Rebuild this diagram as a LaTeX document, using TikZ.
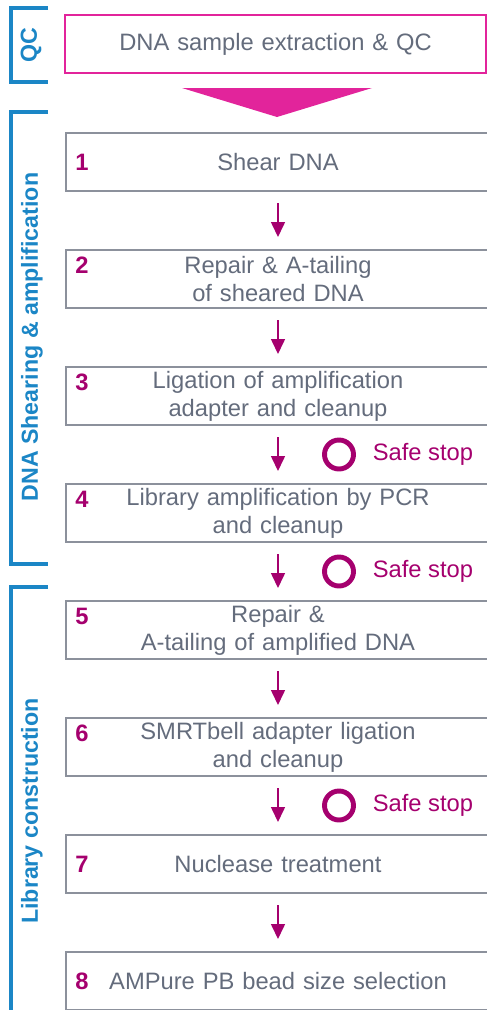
\documentclass[tikz,border=0pt]{standalone}
\usepackage{fontspec}
\setmainfont{Liberation Sans}
\usepackage{tikz}
\usetikzlibrary{positioning,arrows.meta,calc}

\definecolor{qcpink}{HTML}{E2249B}
\definecolor{stepnum}{HTML}{A5006E}
\definecolor{steptext}{HTML}{646C7C}
\definecolor{boxline}{HTML}{8C919C}
\definecolor{phaseblue}{HTML}{1B86C6}

\begin{document}
\begin{tikzpicture}[
  box/.style={rectangle,draw=boxline,line width=0.8pt,minimum height=1.16cm,minimum width=8.48cm,
    inner ysep=0pt,outer sep=0pt,text width=8cm,align=center,text=steptext,
    font=\fontsize{13.5}{15.9}\selectfont},
  qcbox/.style={box,draw=qcpink,line width=1.7pt,minimum width=8.42cm},
  num/.style={text=stepnum,font=\fontsize{13.5}{15.9}\selectfont\bfseries},
  link/.style={draw=stepnum,line width=0.9pt,-{Triangle[width=0.28cm,length=0.3cm]},
    shorten <=0.24cm,shorten >=0.26cm},
  ring/.style={circle,draw=stepnum,line width=2.8pt,minimum size=0.58cm,inner sep=0pt},
  stoptext/.style={text=stepnum,inner sep=0pt,font=\fontsize{13.5}{15.9}\selectfont},
  bracket/.style={draw=phaseblue,line width=2.3pt},
  phase/.style={rotate=90,text=phaseblue,font=\fontsize{13.2}{15}\selectfont\bfseries},
  node distance=1.18cm
]
  \useasboundingbox (0,0) rectangle (9.74,-20.2);

  % QC
  \node [qcbox] (q0) at (5.51,-0.88) {DNA sample extraction \& QC};
  \fill [qcpink] (3.64,-1.76) -- (7.44,-1.76) -- (5.54,-2.34) -- cycle;

  % Steps
  \node [box] (s1) at (5.56,-3.24) {Shear DNA};
  \node [box,below=of s1] (s2) {Repair \& A-tailing\\of sheared DNA};
  \node [box,below=of s2] (s3) {Ligation of amplification\\adapter and cleanup};
  \node [box,below=of s3] (s4) {Library amplification by PCR\\and cleanup};
  \node [box,below=of s4] (s5) {Repair \&\\A-tailing of amplified DNA};
  \node [box,below=of s5] (s6) {SMRTbell adapter ligation\\and cleanup};
  \node [box,below=of s6] (s7) {Nuclease treatment};
  \node [box,below=of s7] (s8) {AMPure PB bead size selection};

  \node [num] (n1) at ([xshift=0.32cm]s1.west) {1};
  \node [num] (n2) at ([xshift=0.32cm,yshift=0.27cm]s2.west) {2};
  \node [num] (n3) at ([xshift=0.32cm,yshift=0.27cm]s3.west) {3};
  \node [num] (n4) at ([xshift=0.32cm,yshift=0.27cm]s4.west) {4};
  \node [num] (n5) at ([xshift=0.32cm,yshift=0.27cm]s5.west) {5};
  \node [num] (n6) at ([xshift=0.32cm,yshift=0.27cm]s6.west) {6};
  \node [num] (n7) at ([xshift=0.32cm]s7.west) {7};
  \node [num] (n8) at ([xshift=0.32cm]s8.west) {8};

  \draw [link] (s1.south) -- (s2.north);
  \draw [link] (s2.south) -- (s3.north);
  \draw [link] (s3.south) -- (s4.north);
  \draw [link] (s4.south) -- (s5.north);
  \draw [link] (s5.south) -- (s6.north);
  \draw [link] (s6.south) -- (s7.north);
  \draw [link] (s7.south) -- (s8.north);

  % Safe stops
  \node [ring] (c3) at ($(s3.south)!0.5!(s4.north)+(1.22,0)$) {};
  \node [stoptext,right=0.33cm of c3] (t3) {Safe stop};
  \node [ring] (c4) at ($(s4.south)!0.5!(s5.north)+(1.22,0)$) {};
  \node [stoptext,right=0.33cm of c4] (t4) {Safe stop};
  \node [ring] (c6) at ($(s6.south)!0.5!(s7.north)+(1.22,0)$) {};
  \node [stoptext,right=0.33cm of c6] (t6) {Safe stop};

  % Phase brackets
  \draw [bracket] (0.96,-0.16) -- (0.22,-0.16) -- (0.22,-1.64) -- (0.96,-1.64);
  \draw [bracket] (0.96,-2.24) -- (0.22,-2.24) -- (0.22,-11.28) -- (0.96,-11.28);
  \draw [bracket] (0.96,-11.74) -- (0.22,-11.74) -- (0.22,-20.6);
  \node [phase] (p0) at (0.62,-0.9) {QC};
  \node [phase] (p1) at (0.64,-6.74) {DNA Shearing \& amplification};
  \node [phase] (p2) at (0.64,-16.22) {Library construction};
\end{tikzpicture}
\end{document}
